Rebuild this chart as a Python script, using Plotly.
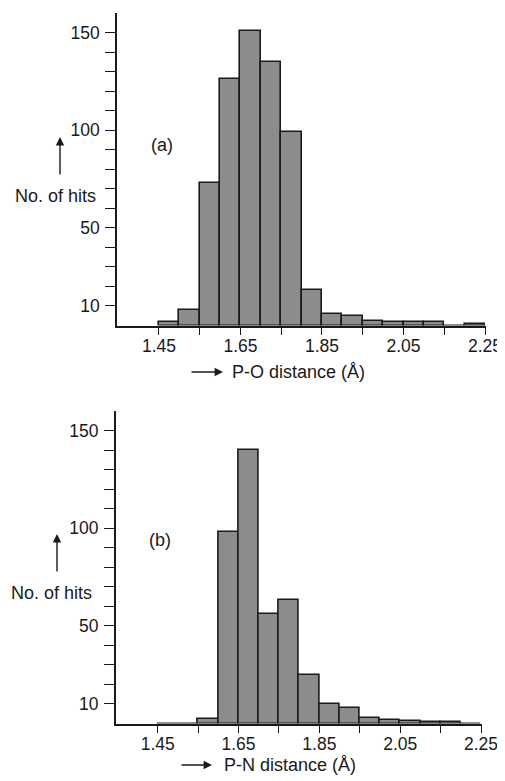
import plotly.graph_objects as go

# ---- data ----
bin_starts = [1.45, 1.50, 1.55, 1.60, 1.65, 1.70, 1.75, 1.80, 1.85, 1.90, 1.95, 2.00, 2.05, 2.10, 2.15, 2.20]
po_hits    = [2,    8,    73,   126,  151,  135,  99,   18,   6,    5,    2.5,  2,    2,    2,    0,    1]
pn_hits    = [0,    0,    2.3,  98,   140,  56,   63,   25,   10,   8,    3,    1.8,  1.4,  1,    1,    0]
bin_width = 0.05

x_tick_vals = [1.45, 1.55, 1.65, 1.75, 1.85, 1.95, 2.05, 2.15, 2.25]
x_tick_text = ["1.45", "", "1.65", "", "1.85", "", "2.05", "", "2.25"]
y_tick_vals = [10, 20, 30, 40, 50, 60, 70, 80, 90, 100, 110, 120, 130, 140, 150]
y_tick_text = ["10", "", "", "", "50", "", "", "", "", "100", "", "", "", "", "150"]

# page has an 8px body margin; figure fills the rest of the window
OFF = 8
W, H = 505 - OFF, 781 - OFF
FONT = "Liberation Sans, Arial, sans-serif"
INK = "#1a1a1a"

def px(x):
    return (x - OFF) / W

def py(y):
    return 1 - (y - OFF) / H

centers = [b + bin_width / 2 for b in bin_starts]

fig = go.Figure()
for series, xa, ya in [(po_hits, "x", "y"), (pn_hits, "x2", "y2")]:
    fig.add_trace(go.Bar(
        x=centers, y=series, width=bin_width,
        marker=dict(color="#8c8c8c", line=dict(color=INK, width=1.6)),
        xaxis=xa, yaxis=ya, showlegend=False,
    ))

xcommon = dict(
    tickmode="array", tickvals=x_tick_vals, ticktext=x_tick_text,
    ticks="outside", ticklen=8, tickwidth=1.4, tickcolor=INK,
    showline=True, linecolor=INK, linewidth=1.6,
    showgrid=False, zeroline=False, automargin=False,
    ticklabelstandoff=-4, ticklabeloverflow="allow",
    tickfont=dict(family=FONT, size=17.5, color=INK),
)
ycommon = dict(
    tickmode="array", tickvals=y_tick_vals, ticktext=y_tick_text,
    ticks="outside", ticklen=10, tickwidth=1.4, tickcolor=INK,
    showline=True, linecolor=INK, linewidth=1.6,
    showgrid=False, zeroline=False, range=[0, 160], automargin=False,
    ticklabelstandoff=2,
    tickfont=dict(family=FONT, size=17.5, color=INK),
)

fig.update_layout(
    width=W, height=H,
    margin=dict(l=0, r=0, t=0, b=0),
    paper_bgcolor="white", plot_bgcolor="white",
    bargap=0,
    xaxis=dict(domain=[px(117), px(485.5)], range=[1.347, 2.2512], anchor="y", **xcommon),
    yaxis=dict(domain=[py(325.5), py(13)], anchor="x", **ycommon),
    xaxis2=dict(domain=[px(115.7), px(481.5)], range=[1.346, 2.2512], anchor="y2", **xcommon),
    yaxis2=dict(domain=[py(723.5), py(411)], anchor="x2", **ycommon),
)

tf = dict(family=FONT, size=18, color=INK)
ann = []

def label(text, x, y, xanchor="center"):
    ann.append(dict(text=text, x=px(x), y=py(y), xref="paper", yref="paper",
                    xanchor=xanchor, yanchor="middle", showarrow=False, font=tf))

# panel labels
label("(a)", 162, 145)
label("(b)", 160, 540)
# y titles
label("No. of hits", 55, 196)
label("No. of hits", 51, 593)
# vertical arrows
for (xx, tip, tail) in [(60, 137, 176), (57, 534, 573)]:
    ann.append(dict(text="", x=px(xx), y=py(tip), xref="paper", yref="paper",
                    ax=0, ay=tail - tip, showarrow=True, arrowhead=2, arrowsize=1.2,
                    arrowwidth=1.4, arrowcolor=INK))
# x titles
for (tail, tip, tx, yy, txt) in [(190, 223, 230, 372, "P-O distance (Å)"),
                                  (180, 212, 222, 765, "P-N distance (Å)")]:
    ann.append(dict(text="", x=px(tip), y=py(yy), xref="paper", yref="paper",
                    ax=tail - tip, ay=0, showarrow=True, arrowhead=2, arrowsize=1.2,
                    arrowwidth=1.4, arrowcolor=INK))
    label(txt, tx, yy, xanchor="left")
fig.update_layout(annotations=ann)

fig.write_html("out.html")
